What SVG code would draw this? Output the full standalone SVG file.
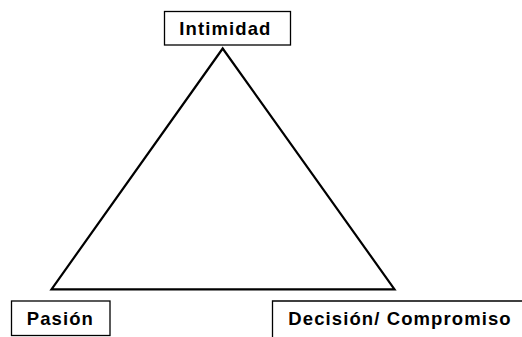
<svg xmlns="http://www.w3.org/2000/svg" width="522" height="337" viewBox="0 0 522 337">
<style>
.box{fill:#fff;stroke:#000;stroke-width:1.3}
.lbl{font-family:"Liberation Sans",Arial,sans-serif;font-weight:bold;font-size:18.5px;letter-spacing:1.1px;fill:#000}
.edge{fill:none;stroke:#000;stroke-width:2.2;stroke-linejoin:miter}
</style>
<rect width="522" height="337" fill="#fff"/>
<g id="connectors">
<path class="edge" d="M222.7,48.5 L51.5,289.3 L394.5,289.3 Z"/>
</g>
<g id="intimidad">
<rect class="box" x="164.5" y="11.5" width="126" height="33.5"/>
<text class="lbl" x="179.3" y="35">Intimidad</text>
</g>
<g id="pasion">
<rect class="box" x="11.5" y="301" width="98.5" height="34.5"/>
<text class="lbl" x="26.7" y="325">Pasión</text>
</g>
<g id="decision">
<path class="box" d="M272.5,340 L272.5,301 L523,301"/>
<text class="lbl" x="288.3" y="325">Decisión/ Compromiso</text>
</g>
</svg>
